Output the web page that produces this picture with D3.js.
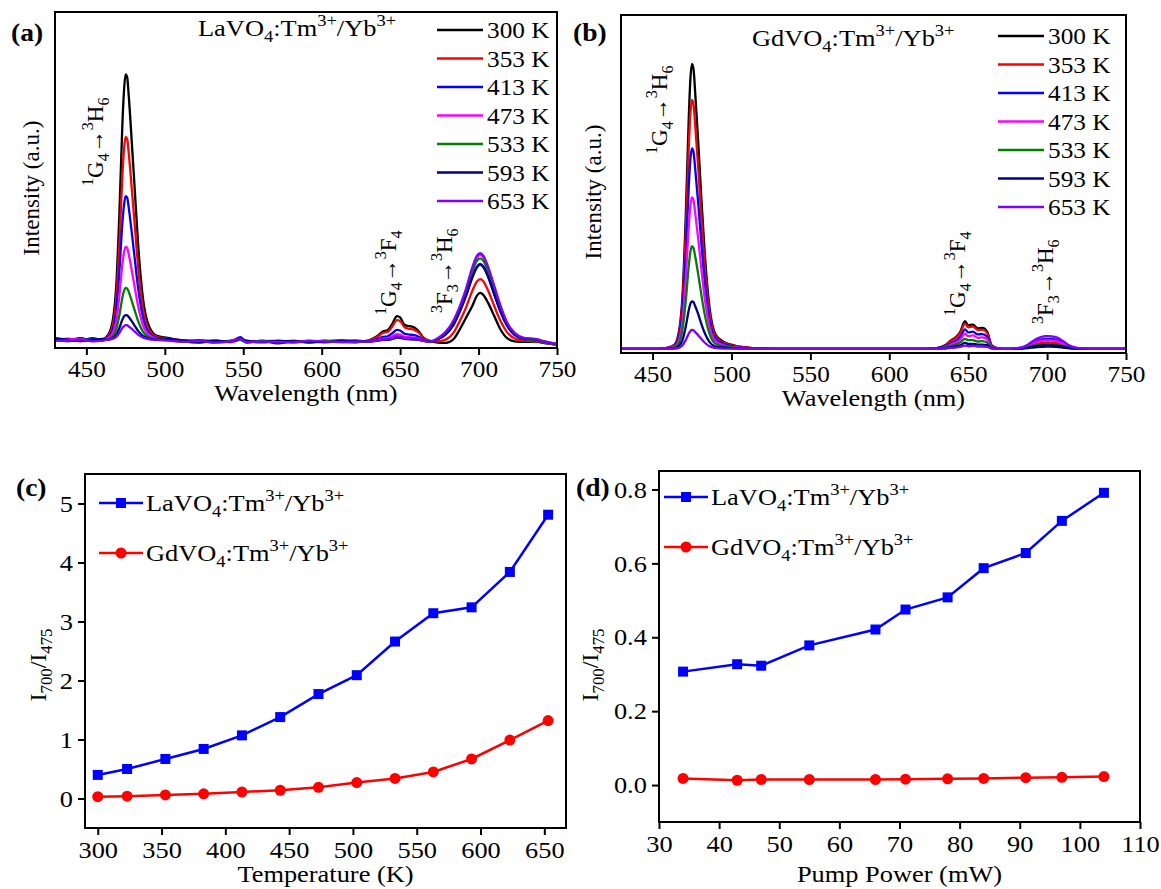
<!DOCTYPE html>
<html>
<head>
<meta charset="utf-8">
<script src="https://cdn.jsdelivr.net/npm/d3@7/dist/d3.min.js"></script>
<style>
  body { margin: 0; background: #fff; }
  svg { display: block; font-family: "Liberation Serif", "Times New Roman", serif; }
  .tick text { font-family: "Liberation Serif", "Times New Roman", serif; fill: #000; }
  .tick line { stroke: #000; stroke-width: 2; }
</style>
</head>
<body>
<svg width="1161" height="889"></svg>
<script>
// ---- data ----
var wavelengths = [430, 438, 446, 454, 460, 464, 467, 469, 471, 473, 474, 475, 476, 477, 479, 481, 483, 486, 490, 495,
  502, 512, 522, 532, 542, 548, 552, 562, 572, 582, 592, 602, 612, 622,
  630, 635, 639, 642, 645, 648, 650, 653, 656, 659, 662, 665, 669,
  674, 679, 684, 688, 692, 696, 699, 701, 703, 706, 710, 714, 718, 723, 729, 736, 743, 750];

var temps = ['300 K', '353 K', '413 K', '473 K', '533 K', '593 K', '653 K'];
var tempColors = ['#000000', '#ff0000', '#0000ff', '#ff00ff', '#008000', '#000080', '#8000ff'];

// LaVO4 spectra (arbitrary units, 0-100 = full panel height)
var laSpectra = [
  [2.6, 2.1, 2.9, 2.2, 2.5, 4.0, 8.7, 18.2, 39.5, 67.2, 76.7, 81.4, 80.6, 75.1, 60.9, 45.9, 30.8, 15.0, 6.4, 3.6,
   3.0, 2.0, 1.6, 2.2, 1.8, 2.4, 1.7, 2.1, 1.4, 2.0, 1.6, 2.2, 1.9, 1.7,
   2.3, 3.4, 4.9, 5.3, 7.2, 9.5, 9.1, 6.8, 6.5, 6.1, 4.9, 3.0, 2.1,
   1.6, 1.5, 2.6, 5.5, 9.0, 12.5, 15.6, 16.4, 15.8, 13.5, 9.5, 5.5, 3.0, 2.0, 1.8, 1.9, 1.4, 1.0],
  [2.3, 2.8, 2.0, 2.6, 2.2, 3.6, 7.2, 14.5, 30.8, 51.9, 59.2, 62.8, 62.2, 58.0, 47.1, 35.6, 24.1, 12.1, 5.4, 3.3,
   2.8, 2.3, 2.0, 1.7, 2.1, 2.9, 1.8, 1.9, 1.7, 2.2, 1.8, 1.9, 2.3, 1.9,
   2.2, 3.2, 4.5, 4.8, 6.4, 8.3, 8.0, 6.1, 5.7, 5.4, 4.5, 2.9, 2.1,
   2.0, 2.5, 4.5, 8.0, 12.0, 17.0, 19.8, 20.5, 19.9, 17.2, 12.5, 8.0, 4.8, 2.8, 2.1, 2.0, 1.5, 1.0],
  [2.8, 2.4, 2.2, 2.9, 2.4, 3.3, 5.8, 11.0, 22.5, 37.5, 42.6, 45.2, 44.8, 41.8, 34.1, 25.9, 17.8, 9.2, 4.5, 3.0,
   2.7, 2.1, 2.3, 1.9, 1.8, 3.2, 2.0, 1.7, 2.0, 1.8, 2.1, 1.8, 2.0, 2.1,
   2.0, 2.6, 3.3, 3.5, 4.4, 5.4, 5.2, 4.2, 4.0, 3.8, 3.3, 2.4, 2.0,
   2.6, 4.0, 6.8, 10.8, 15.5, 21.0, 24.2, 25.0, 24.3, 21.4, 16.0, 10.8, 6.8, 3.8, 2.6, 2.3, 1.7, 1.1],
  [2.2, 2.6, 2.7, 2.1, 2.6, 3.0, 4.6, 7.9, 15.4, 25.1, 28.4, 30.1, 29.8, 27.9, 22.9, 17.6, 12.4, 6.8, 3.8, 2.8,
   2.5, 2.2, 1.9, 2.3, 1.7, 2.6, 2.1, 2.0, 2.2, 1.6, 2.0, 2.1, 1.7, 2.0,
   2.0, 2.3, 2.8, 2.9, 3.4, 4.1, 4.0, 3.3, 3.2, 3.1, 2.8, 2.2, 1.9,
   2.8, 4.6, 7.8, 12.0, 17.2, 23.4, 26.9, 27.7, 27.0, 23.8, 17.8, 12.0, 7.4, 4.2, 2.8, 2.4, 1.7, 1.1],
  [2.5, 2.0, 2.4, 2.5, 2.3, 2.7, 3.6, 5.5, 9.7, 15.1, 17.0, 17.9, 17.7, 16.7, 13.9, 10.9, 8.0, 4.9, 3.2, 2.6,
   2.4, 1.8, 2.2, 1.8, 2.2, 2.5, 1.6, 2.2, 1.9, 1.9, 1.7, 2.0, 2.2, 1.8,
   1.9, 2.2, 2.5, 2.6, 2.9, 3.4, 3.3, 2.9, 2.8, 2.7, 2.5, 2.1, 1.9,
   2.7, 4.4, 7.5, 11.6, 16.6, 22.6, 26.0, 26.7, 26.0, 22.8, 17.0, 11.5, 7.1, 4.0, 2.7, 2.3, 1.6, 1.0],
  [2.9, 2.5, 2.1, 2.4, 2.7, 2.5, 3.0, 3.9, 5.9, 8.5, 9.4, 9.8, 9.7, 9.2, 7.9, 6.5, 5.1, 3.6, 2.8, 2.5,
   2.6, 2.3, 1.8, 2.1, 1.9, 2.7, 2.2, 1.8, 2.1, 2.0, 1.9, 1.7, 2.1, 2.2,
   1.9, 2.1, 2.4, 2.4, 2.7, 3.1, 3.0, 2.7, 2.6, 2.5, 2.4, 2.1, 1.9,
   2.6, 4.2, 7.0, 10.9, 15.6, 21.0, 24.0, 24.8, 24.1, 21.3, 16.0, 10.9, 6.9, 4.0, 2.8, 2.6, 1.8, 1.2],
  [2.1, 2.3, 2.5, 2.0, 2.2, 2.5, 2.8, 3.3, 4.5, 6.0, 6.5, 6.8, 6.8, 6.4, 5.7, 4.8, 4.0, 3.1, 2.6, 2.4,
   2.2, 1.9, 2.1, 1.6, 2.0, 2.8, 1.7, 1.9, 1.8, 1.7, 2.2, 1.9, 1.8, 1.9,
   1.9, 2.2, 2.5, 2.6, 3.0, 3.5, 3.4, 2.9, 2.9, 2.8, 2.5, 2.1, 1.9,
   2.9, 4.8, 8.2, 12.4, 17.6, 24.0, 27.5, 28.2, 27.5, 24.3, 18.5, 12.6, 7.8, 4.5, 3.0, 2.7, 1.9, 1.2]
];

// GdVO4 spectra
var gdSpectra = [
  [1.2, 1.2, 1.2, 1.25, 1.6, 2.5, 7.1, 17.2, 40.0, 70.3, 81.3, 85.5, 83.8, 77.1, 61.9, 45.0, 29.9, 13.8, 5.4, 3.3,
   2.2, 1.5, 1.3, 1.2, 1.2, 1.2, 1.2, 1.2, 1.2, 1.2, 1.2, 1.2, 1.2, 1.22,
   1.45, 2.2, 3.7, 4.6, 6.3, 9.4, 8.2, 8.4, 7.3, 7.4, 6.3, 2.2, 1.4,
   1.2, 1.23, 1.28, 1.45, 1.69, 1.84, 1.9, 1.9, 1.89, 1.83, 1.63, 1.4, 1.27, 1.22, 1.2, 1.2, 1.2, 1.2],
  [1.2, 1.2, 1.2, 1.25, 1.6, 2.3, 6.4, 15.2, 35.1, 61.6, 71.2, 74.9, 73.4, 67.5, 54.3, 39.5, 26.3, 12.3, 4.9, 3.0,
   2.1, 1.5, 1.3, 1.2, 1.2, 1.2, 1.2, 1.2, 1.2, 1.2, 1.2, 1.2, 1.2, 1.22,
   1.4, 2.1, 3.5, 4.4, 5.9, 8.7, 7.6, 7.8, 6.8, 6.9, 5.9, 2.1, 1.35,
   1.2, 1.28, 1.43, 1.87, 2.53, 2.95, 3.1, 3.1, 3.06, 2.91, 2.38, 1.73, 1.39, 1.26, 1.22, 1.2, 1.2, 1.2],
  [1.2, 1.2, 1.2, 1.25, 1.5, 2.1, 5.4, 12.5, 28.5, 49.8, 57.5, 60.5, 59.3, 54.6, 43.9, 32.0, 21.4, 10.1, 4.2, 2.7,
   1.9, 1.4, 1.3, 1.2, 1.2, 1.2, 1.2, 1.2, 1.2, 1.2, 1.2, 1.2, 1.2, 1.22,
   1.4, 1.9, 2.9, 3.6, 4.8, 7.0, 6.1, 6.3, 5.5, 5.6, 4.8, 1.9, 1.3,
   1.2, 1.32, 1.56, 2.25, 3.3, 3.96, 4.2, 4.2, 4.14, 3.9, 3.06, 2.04, 1.5, 1.29, 1.23, 1.2, 1.2, 1.2],
  [1.2, 1.2, 1.2, 1.25, 1.4, 1.9, 4.3, 9.7, 21.8, 37.9, 43.8, 46.0, 45.1, 41.5, 33.5, 24.5, 16.4, 7.9, 3.4, 2.3,
   1.7, 1.4, 1.25, 1.2, 1.2, 1.2, 1.2, 1.2, 1.2, 1.2, 1.2, 1.2, 1.2, 1.22,
   1.3, 1.7, 2.5, 3.1, 4.0, 5.7, 5.0, 5.2, 4.5, 4.6, 4.0, 1.7, 1.3,
   1.2, 1.3, 1.51, 2.11, 3.02, 3.59, 3.8, 3.8, 3.75, 3.54, 2.81, 1.93, 1.46, 1.28, 1.23, 1.2, 1.2, 1.2],
  [1.2, 1.2, 1.2, 1.25, 1.4, 1.7, 3.3, 7.0, 15.2, 26.1, 30.1, 31.6, 31.0, 28.6, 23.1, 17.0, 11.5, 5.8, 2.7, 2.0,
   1.6, 1.3, 1.25, 1.2, 1.2, 1.2, 1.2, 1.2, 1.2, 1.2, 1.2, 1.2, 1.2, 1.22,
   1.3, 1.6, 2.1, 2.5, 3.1, 4.2, 3.8, 3.8, 3.4, 3.5, 3.1, 1.6, 1.25,
   1.2, 1.26, 1.38, 1.73, 2.25, 2.58, 2.7, 2.7, 2.67, 2.55, 2.13, 1.62, 1.35, 1.25, 1.22, 1.2, 1.2, 1.2],
  [1.2, 1.2, 1.2, 1.22, 1.3, 1.4, 2.2, 3.9, 7.7, 12.8, 14.6, 15.3, 15.0, 13.9, 11.4, 8.5, 6.0, 3.3, 1.9, 1.6,
   1.4, 1.3, 1.22, 1.2, 1.2, 1.2, 1.2, 1.2, 1.2, 1.2, 1.2, 1.2, 1.2, 1.21,
   1.25, 1.4, 1.7, 2.0, 2.3, 3.0, 2.7, 2.7, 2.5, 2.5, 2.3, 1.4, 1.2,
   1.2, 1.24, 1.33, 1.59, 1.97, 2.21, 2.3, 2.3, 2.28, 2.19, 1.88, 1.51, 1.31, 1.23, 1.21, 1.2, 1.2, 1.2],
  [1.2, 1.2, 1.2, 1.2, 1.2, 1.3, 1.6, 2.3, 3.8, 5.8, 6.5, 6.8, 6.7, 6.2, 5.2, 4.1, 3.1, 2.0, 1.5, 1.3,
   1.3, 1.2, 1.2, 1.2, 1.2, 1.2, 1.2, 1.2, 1.2, 1.2, 1.2, 1.2, 1.2, 1.2,
   1.2, 1.3, 1.5, 1.6, 1.8, 2.2, 2.0, 2.1, 1.9, 1.9, 1.8, 1.3, 1.2,
   1.2, 1.35, 1.66, 2.53, 3.86, 4.7, 5.0, 5.0, 4.92, 4.62, 3.56, 2.26, 1.58, 1.31, 1.24, 1.2, 1.2, 1.2]
];

// (c) ratio vs temperature
var temperatureK = [300, 323, 353, 383, 413, 443, 473, 503, 533, 563, 593, 623, 653];
var laRatioT = [0.40, 0.50, 0.67, 0.84, 1.07, 1.38, 1.77, 2.09, 2.66, 3.14, 3.24, 3.84, 4.81];
var gdRatioT = [0.03, 0.04, 0.06, 0.08, 0.11, 0.14, 0.19, 0.27, 0.34, 0.45, 0.67, 0.99, 1.32];

// (d) ratio vs pump power
var pumpPower = [34, 43, 47, 55, 66, 71, 78, 84, 91, 97, 104];
var laRatioP = [0.307, 0.327, 0.323, 0.378, 0.421, 0.475, 0.508, 0.587, 0.628, 0.715, 0.791];
var gdRatioP = [0.018, 0.013, 0.015, 0.015, 0.015, 0.016, 0.017, 0.018, 0.020, 0.021, 0.023];

var wlTicks = [450, 500, 550, 600, 650, 700, 750];
var tTicks = [300, 350, 400, 450, 500, 550, 600, 650];
var tYTicks = [0, 1, 2, 3, 4, 5];
var pTicks = [30, 40, 50, 60, 70, 80, 90, 100, 110];
var pYTicks = [0.0, 0.2, 0.4, 0.6, 0.8];

var laName = [['LaVO', ''], ['4', 'sub'], [':Tm', ''], ['3+', 'sup'], ['/Yb', ''], ['3+', 'sup']];
var gdName = [['GdVO', ''], ['4', 'sub'], [':Tm', ''], ['3+', 'sup'], ['/Yb', ''], ['3+', 'sup']];
var transG4H6 = [['1', 'sup'], ['G', ''], ['4', 'sub'], ['\u2192', ''], ['3', 'sup'], ['H', ''], ['6', 'sub']];
var transG4F4 = [['1', 'sup'], ['G', ''], ['4', 'sub'], ['\u2192', ''], ['3', 'sup'], ['F', ''], ['4', 'sub']];
var transF3H6 = [['3', 'sup'], ['F', ''], ['3', 'sub'], ['\u2192', ''], ['3', 'sup'], ['H', ''], ['6', 'sub']];
var ratioLabel = [['I', ''], ['700', 'sub'], ['/I', ''], ['475', 'sub']];

// the original figure is a little wider than tall, so horizontal text gets stretched a bit
var SX = 1.1;

var svg = d3.select('svg');
svg.append('rect').attr('width', 1161).attr('height', 889).attr('fill', '#fff');

function place(x, y, rot) {
    return 'translate(' + x + ',' + y + ')' + (rot ? ' rotate(' + rot + ')' : ' scale(' + SX + ',1)');
}

// text with sub/superscripts
function rich(g, parts, size, x, y, rot, anchor) {
    var t = g.append('text')
        .attr('transform', place(x, y, rot))
        .attr('text-anchor', anchor || 'start')
        .attr('font-size', size)
        .attr('fill', '#000');
    var off = 0;
    parts.forEach(function(p) {
        var target = p[1] === 'sup' ? -0.42 * size : (p[1] === 'sub' ? 0.26 * size : 0);
        t.append('tspan')
            .attr('dy', target - off)
            .attr('font-size', p[1] ? size * 0.7 : size)
            .text(p[0]);
        off = target;
    });
    return t;
}

function plainText(g, str, size, x, y, rot, anchor, weight) {
    return g.append('text')
        .attr('transform', place(x, y, rot))
        .attr('text-anchor', anchor || 'start')
        .attr('font-size', size)
        .attr('font-weight', weight || 'normal')
        .attr('fill', '#000')
        .text(str);
}

function frame(id, x0, x1, y0, y1) {
    svg.append('clipPath').attr('id', id)
        .append('rect').attr('x', x0).attr('y', y0).attr('width', x1 - x0).attr('height', y1 - y0);
}

function drawFrame(x0, x1, y0, y1) {
    svg.append('rect')
        .attr('x', x0).attr('y', y0).attr('width', x1 - x0).attr('height', y1 - y0)
        .attr('fill', 'none').attr('stroke', '#000').attr('stroke-width', 2);
}

function xAxis(scale, ticks, y, size, fmt) {
    var g = svg.append('g').attr('transform', 'translate(0,' + y + ')')
        .call(d3.axisBottom(scale).tickValues(ticks).tickSize(7).tickPadding(6).tickSizeOuter(0)
            .tickFormat(fmt || d3.format('d')));
    g.select('.domain').remove();
    g.selectAll('.tick text').attr('font-size', size).attr('transform', 'scale(' + SX + ',1)');
    return g;
}

function yAxis(scale, ticks, x, size, fmt) {
    var g = svg.append('g').attr('transform', 'translate(' + x + ',0)')
        .call(d3.axisLeft(scale).tickValues(ticks).tickSize(7).tickPadding(4).tickSizeOuter(0)
            .tickFormat(fmt || d3.format('d')));
    g.select('.domain').remove();
    g.selectAll('.tick text').attr('font-size', size).attr('transform', 'scale(' + SX + ',1)');
    return g;
}

// ---------- spectra panels (a), (b) ----------
function spectraPanel(opt) {
    var x = d3.scaleLinear().domain([430, 750]).range([opt.x0, opt.x1]);
    var y = d3.scaleLinear().domain([0, 100]).range([opt.y1, opt.y0]);
    frame(opt.id, opt.x0, opt.x1, opt.y0, opt.y1);

    var line = d3.line()
        .x(function(d, i) { return x(wavelengths[i]); })
        .y(function(d) { return y(d); })
        .curve(d3.curveMonotoneX);

    svg.append('g').attr('clip-path', 'url(#' + opt.id + ')')
        .selectAll('path').data(opt.spectra).enter().append('path')
        .attr('d', line)
        .attr('fill', 'none')
        .attr('stroke', function(d, i) { return tempColors[i]; })
        .attr('stroke-width', 2.3)
        .attr('stroke-linejoin', 'round');

    drawFrame(opt.x0, opt.x1, opt.y0, opt.y1);
    xAxis(x, wlTicks, opt.y1, 23);

    plainText(svg, 'Wavelength (nm)', 24, (opt.x0 + opt.x1) / 2, opt.titleY, 0, 'middle');
    plainText(svg, 'Intensity (a.u.)', 23, opt.yTitleX, opt.yTitleY, -90, 'middle');
    plainText(svg, opt.tag, 25, opt.tagX, opt.tagY, 0, 'start', 'bold');
    rich(svg, opt.name, 24, opt.nameX, opt.nameY);

    // legend
    var leg = svg.append('g');
    temps.forEach(function(t, i) {
        var ly = opt.legY + i * 28.5;
        leg.append('line').attr('x1', opt.legX).attr('x2', opt.legX + 46)
            .attr('y1', ly).attr('y2', ly)
            .attr('stroke', tempColors[i]).attr('stroke-width', 2.5);
        plainText(leg, t, 23, opt.legX + 50, ly + 8);
    });

    opt.notes.forEach(function(n) {
        rich(svg, n.parts, 23, n.x, n.y, -90, 'start');
    });
}

spectraPanel({
    id: 'clipA', x0: 55, x1: 557, y0: 12, y1: 348,
    spectra: laSpectra, titleY: 401, yTitleX: 39, yTitleY: 188,
    tag: '(a)', tagX: 11, tagY: 41,
    name: laName, nameX: 198, nameY: 36,
    legX: 437, legY: 30,
    notes: [
        { parts: transG4H6, x: 103, y: 186 },
        { parts: transG4F4, x: 396, y: 315 },
        { parts: transF3H6, x: 452, y: 313 }
    ]
});

spectraPanel({
    id: 'clipB', x0: 621, x1: 1126, y0: 15, y1: 353,
    spectra: gdSpectra, titleY: 406, yTitleX: 601, yTitleY: 192,
    tag: '(b)', tagX: 573, tagY: 41,
    name: gdName, nameX: 752, nameY: 46,
    legX: 998, legY: 36,
    notes: [
        { parts: transG4H6, x: 667, y: 154 },
        { parts: transG4F4, x: 965, y: 316 },
        { parts: transF3H6, x: 1053, y: 324 }
    ]
});

// ---------- ratio panels (c), (d) ----------
function marker(g, shape, cx, cy, color) {
    if (shape === 'square') {
        g.append('rect').attr('x', cx - 5).attr('y', cy - 5).attr('width', 10).attr('height', 10).attr('fill', color);
    } else {
        g.append('circle').attr('cx', cx).attr('cy', cy).attr('r', 5.5).attr('fill', color);
    }
}

function ratioPanel(opt) {
    var x = d3.scaleLinear().domain(opt.xDomain).range([opt.x0, opt.x1]);
    var y = d3.scaleLinear().domain(opt.yDomain).range([opt.y1, opt.y0]);

    drawFrame(opt.x0, opt.x1, opt.y0, opt.y1);
    xAxis(x, opt.xTicks, opt.y1, 24);
    yAxis(y, opt.yTicks, opt.x0, 24, opt.yFmt);

    var series = [
        { vals: opt.la, color: '#0000ff', shape: 'square', name: laName },
        { vals: opt.gd, color: '#ff0000', shape: 'circle', name: gdName }
    ];

    series.forEach(function(s, k) {
        var line = d3.line()
            .x(function(d, i) { return x(opt.xs[i]); })
            .y(function(d) { return y(d); });
        svg.append('path').attr('d', line(s.vals))
            .attr('fill', 'none').attr('stroke', s.color).attr('stroke-width', 2.5);
        var g = svg.append('g');
        s.vals.forEach(function(v, i) { marker(g, s.shape, x(opt.xs[i]), y(v), s.color); });

        // legend entry
        var ly = opt.legY + k * 50;
        svg.append('line').attr('x1', opt.legX).attr('x2', opt.legX + 44)
            .attr('y1', ly).attr('y2', ly).attr('stroke', s.color).attr('stroke-width', 2.5);
        marker(svg, s.shape, opt.legX + 22, ly, s.color);
        rich(svg, s.name, 24, opt.legX + 47, ly + 8);
    });

    plainText(svg, opt.xTitle, 24, (opt.x0 + opt.x1) / 2, opt.xTitleY, 0, 'middle');
    rich(svg, ratioLabel, 24, opt.yTitleX, opt.yTitleY, -90, 'middle');
    plainText(svg, opt.tag, 25, opt.tagX, opt.tagY, 0, 'start', 'bold');
}

ratioPanel({
    x0: 85, x1: 566, y0: 474, y1: 828,
    xDomain: [290, 667], yDomain: [-0.5, 5.5],
    xTicks: tTicks, yTicks: tYTicks,
    xs: temperatureK, la: laRatioT, gd: gdRatioT,
    legX: 99, legY: 503,
    xTitle: 'Temperature (K)', xTitleY: 882,
    yTitleX: 46, yTitleY: 665,
    tag: '(c)', tagX: 16, tagY: 496
});

ratioPanel({
    x0: 659, x1: 1140, y0: 471, y1: 822,
    xDomain: [30, 110], yDomain: [-0.1, 0.85],
    xTicks: pTicks, yTicks: pYTicks, yFmt: d3.format('.1f'),
    xs: pumpPower, la: laRatioP, gd: gdRatioP,
    legX: 664, legY: 497,
    xTitle: 'Pump Power (mW)', xTitleY: 882,
    yTitleX: 598, yTitleY: 665,
    tag: '(d)', tagX: 576, tagY: 496
});
</script>
</body>
</html>
